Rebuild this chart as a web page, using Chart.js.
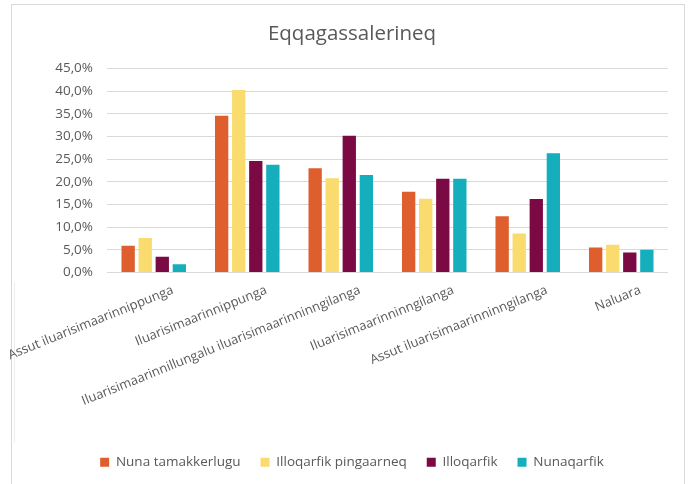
<!DOCTYPE html>
<html>
<head>
<meta charset="utf-8">
<script src="https://cdn.jsdelivr.net/npm/chart.js@4/dist/chart.umd.min.js"></script>
<style>
  html, body { margin: 0; padding: 0; background: #ffffff; }
  #wrap { width: 692px; height: 484px; position: relative; }
</style>
</head>
<body>
<div id="wrap"><canvas id="c" width="692" height="484"></canvas></div>
<script>
const title = "Eqqagassalerineq";
const categories = [
  "Assut iluarisimaarinnippunga",
  "Iluarisimaarinnippunga",
  "Iluarisimaarinnillungalu iluarisimaarinninngilanga",
  "Iluarisimaarinninngilanga",
  "Assut iluarisimaarinninngilanga",
  "Naluara"
];
const seriesNames = ["Nuna tamakkerlugu", "Illoqarfik pingaarneq", "Illoqarfik", "Nunaqarfik"];
const nunaTamakkerlugu     = [5.9, 34.6, 23.0, 17.8, 12.4, 5.5];
const illoqarfikPingaarneq = [7.6, 40.3, 20.8, 16.3, 8.6, 6.1];
const illoqarfik           = [3.5, 24.6, 30.2, 20.7, 16.2, 4.4];
const nunaqarfik           = [1.8, 23.8, 21.5, 20.7, 26.3, 5.0];
const yTickMax = 45;
const yTickStep = 5;

const colors = ["#DE5E2E", "#F9DB6E", "#7B0944", "#14AEBC"];
const values = [nunaTamakkerlugu, illoqarfikPingaarneq, illoqarfik, nunaqarfik];

const borderPlugin = {
  id: 'frame',
  beforeDraw(chart) {
    const ctx = chart.ctx;
    ctx.save();
    ctx.fillStyle = '#ffffff';
    ctx.fillRect(0, 0, chart.width, chart.height);
    ctx.strokeStyle = '#d9d9d9';
    ctx.lineWidth = 1;
    ctx.strokeRect(11.5, 4.5, 673, 500);
    ctx.strokeStyle = '#eeeeee';
    ctx.beginPath();
    ctx.moveTo(14.5, 282);
    ctx.lineTo(14.5, 443);
    ctx.stroke();
    ctx.restore();
  }
};

const FONT = "'Open Sans', sans-serif";
const TXT = '#595959';

new Chart(document.getElementById('c'), {
  type: 'bar',
  data: {
    labels: categories,
    datasets: seriesNames.map((n, i) => ({
      label: n,
      data: values[i],
      backgroundColor: colors[i],
      borderWidth: 0,
      categoryPercentage: 0.73,
      barPercentage: 0.78
    }))
  },
  options: {
    responsive: false,
    animation: false,
    devicePixelRatio: 1,
    layout: { padding: { left: 36, right: 24, top: 0, bottom: 5 } },
    plugins: {
      title: {
        display: true,
        text: title,
        color: TXT,
        font: { family: FONT, size: 20.5, weight: 'normal' },
        padding: { top: 22, bottom: 22 }
      },
      legend: {
        position: 'bottom',
        labels: {
          color: TXT,
          font: { family: FONT, size: 13.5 },
          boxWidth: 9,
          boxHeight: 9,
          padding: 20
        }
      },
      tooltip: { enabled: false }
    },
    scales: {
      x: {
        grid: { display: false },
        border: { display: false },
        ticks: {
          color: TXT,
          font: { family: FONT, size: 13 },
          autoSkip: false,
          minRotation: 22,
          maxRotation: 22,
          labelOffset: 19,
          padding: 2
        },
        afterFit(scale) {
          scale.height = 163;
          scale.paddingLeft = 0;
          scale.paddingRight = 0;
        }
      },
      y: {
        min: 0,
        max: yTickMax,
        grid: { color: '#d9d9d9', lineWidth: 1, drawTicks: false },
        border: { display: false },
        ticks: {
          stepSize: yTickStep,
          color: TXT,
          font: { family: FONT, size: 13.5 },
          padding: 14,
          callback: v => v.toFixed(1).replace('.', ',') + '%'
        },
        afterFit(scale) { scale.width = 71; }
      }
    }
  },
  plugins: [borderPlugin]
});
</script>
</body>
</html>
